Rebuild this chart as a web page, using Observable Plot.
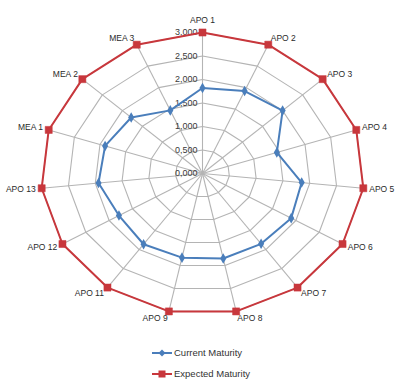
<!DOCTYPE html>
<html>
<head>
<meta charset="utf-8">
<script src="https://cdn.jsdelivr.net/npm/d3@7"></script>
<script src="https://cdn.jsdelivr.net/npm/@observablehq/plot@0.6"></script>
<style>
  body { margin: 0; background: #fff; font-family: "Liberation Sans", Arial, sans-serif; }
  #wrap { position: relative; width: 413px; height: 384px; }
  #legend { position: absolute; left: 151px; top: 342px; font-size: 9.5px; color: #333; }
  .row { display: flex; align-items: center; height: 21px; }
  .row svg { margin-right: 1px; }
</style>
</head>
<body>
<div id="wrap">
  <div id="chart"></div>
  <div id="legend"></div>
</div>
<script>
const categories = ["APO 1","APO 2","APO 3","APO 4","APO 5","APO 6","APO 7","APO 8","APO 9","APO 11","APO 12","APO 13","MEA 1","MEA 2","MEA 3"];
const currentMaturity  = [1.82, 1.92, 2.00, 1.45, 1.85, 1.90, 1.85, 1.85, 1.83, 1.86, 1.79, 1.94, 1.90, 1.78, 1.47];
const expectedMaturity = [3, 3, 3, 3, 3, 3, 3, 3, 3, 3, 3, 3, 3, 3, 3];
const ringTicks = [0.5, 1.0, 1.5, 2.0, 2.5, 3.0];
const tickLabels = [0, 0.5, 1.0, 1.5, 2.0, 2.5, 3.0];
const seriesNames = ["Current Maturity", "Expected Maturity"];

const BLUE = "#4a7ebb", RED = "#c8373c", GRID = "#b4b4b4";
const n = categories.length;
const ang = i => (i * 2 * Math.PI) / n;
const px = (i, v) => v * Math.sin(ang(i));
const py = (i, v) => v * Math.cos(ang(i));

function closedPath(values, key) {
  const pts = values.map((v, i) => ({x: px(i, v), y: py(i, v), cat: categories[i], key}));
  return pts.concat([pts[0]]);
}

const rings = ringTicks.flatMap(r => closedPath(categories.map(() => r), r));
const spokes = categories.map((c, i) => ({x1: 0, y1: 0, x2: px(i, 3), y2: py(i, 3)}));
const cur = closedPath(currentMaturity, "cur");
const exp = closedPath(expectedMaturity, "exp");
const ticks = tickLabels.map(v => ({x: 0, y: v, label: v.toFixed(3).replace(".", ",")}));

const W = 413, H = 340, CX = 202, CY = 173, KX = 53.9, KY = 47;

const labelMarks = categories.map((c, i) => {
  const s = Math.sin(ang(i)), co = Math.cos(ang(i));
  const anchor = s > 0.1 ? "start" : s < -0.1 ? "end" : "middle";
  return Plot.text([{x: px(i, 3), y: py(i, 3), t: c}], {
    x: "x", y: "y", text: "t", textAnchor: anchor,
    dx: 6 * s, dy: -7 * co - (i === 0 ? 5 : 0),
    fontSize: 8.5, fill: "#2a2a2a"
  });
});

const chart = Plot.plot({
  width: W, height: H,
  marginTop: 0, marginBottom: 0, marginLeft: 0, marginRight: 0,
  x: {domain: [-CX / KX, (W - CX) / KX], axis: null},
  y: {domain: [-(H - CY) / KY, CY / KY], axis: null},
  style: {fontFamily: "Liberation Sans, Arial, sans-serif", background: "white"},
  marks: [
    Plot.line(rings, {x: "x", y: "y", z: "key", stroke: GRID, strokeWidth: 1.1}),
    Plot.link(spokes, {x1: "x1", y1: "y1", x2: "x2", y2: "y2", stroke: GRID, strokeWidth: 1.1}),
    Plot.text(ticks, {x: "x", y: "y", text: "label", textAnchor: "end", dx: -5, fontSize: 9, fill: "#3a3a3a"}),
    Plot.line(exp, {x: "x", y: "y", stroke: RED, strokeWidth: 2}),
    Plot.dot(exp.slice(0, n), {x: "x", y: "y", symbol: "square", r: 4, fill: RED, stroke: RED, strokeWidth: 0.5}),
    Plot.line(cur, {x: "x", y: "y", stroke: BLUE, strokeWidth: 2}),
    Plot.dot(cur.slice(0, n), {x: "x", y: "y", symbol: "diamond", r: 3.2, fill: BLUE}),
    ...labelMarks
  ]
});
document.getElementById("chart").appendChild(chart);

// legend
const legend = d3.select("#legend");
const colors = [BLUE, RED];
const shapes = ["diamond", "square"];
seriesNames.forEach((name, k) => {
  const row = legend.append("div").attr("class", "row");
  const sv = row.append("svg").attr("width", 22).attr("height", 12);
  sv.append("line").attr("x1", 1).attr("x2", 21).attr("y1", 6).attr("y2", 6)
    .attr("stroke", colors[k]).attr("stroke-width", 2);
  if (shapes[k] === "square") {
    sv.append("rect").attr("x", 7.5).attr("y", 2.5).attr("width", 7).attr("height", 7).attr("fill", colors[k]);
  } else {
    sv.append("path").attr("d", "M11,2.5L14.5,6L11,9.5L7.5,6Z").attr("fill", colors[k]);
  }
  row.append("span").text(name);
});
</script>
</body>
</html>
